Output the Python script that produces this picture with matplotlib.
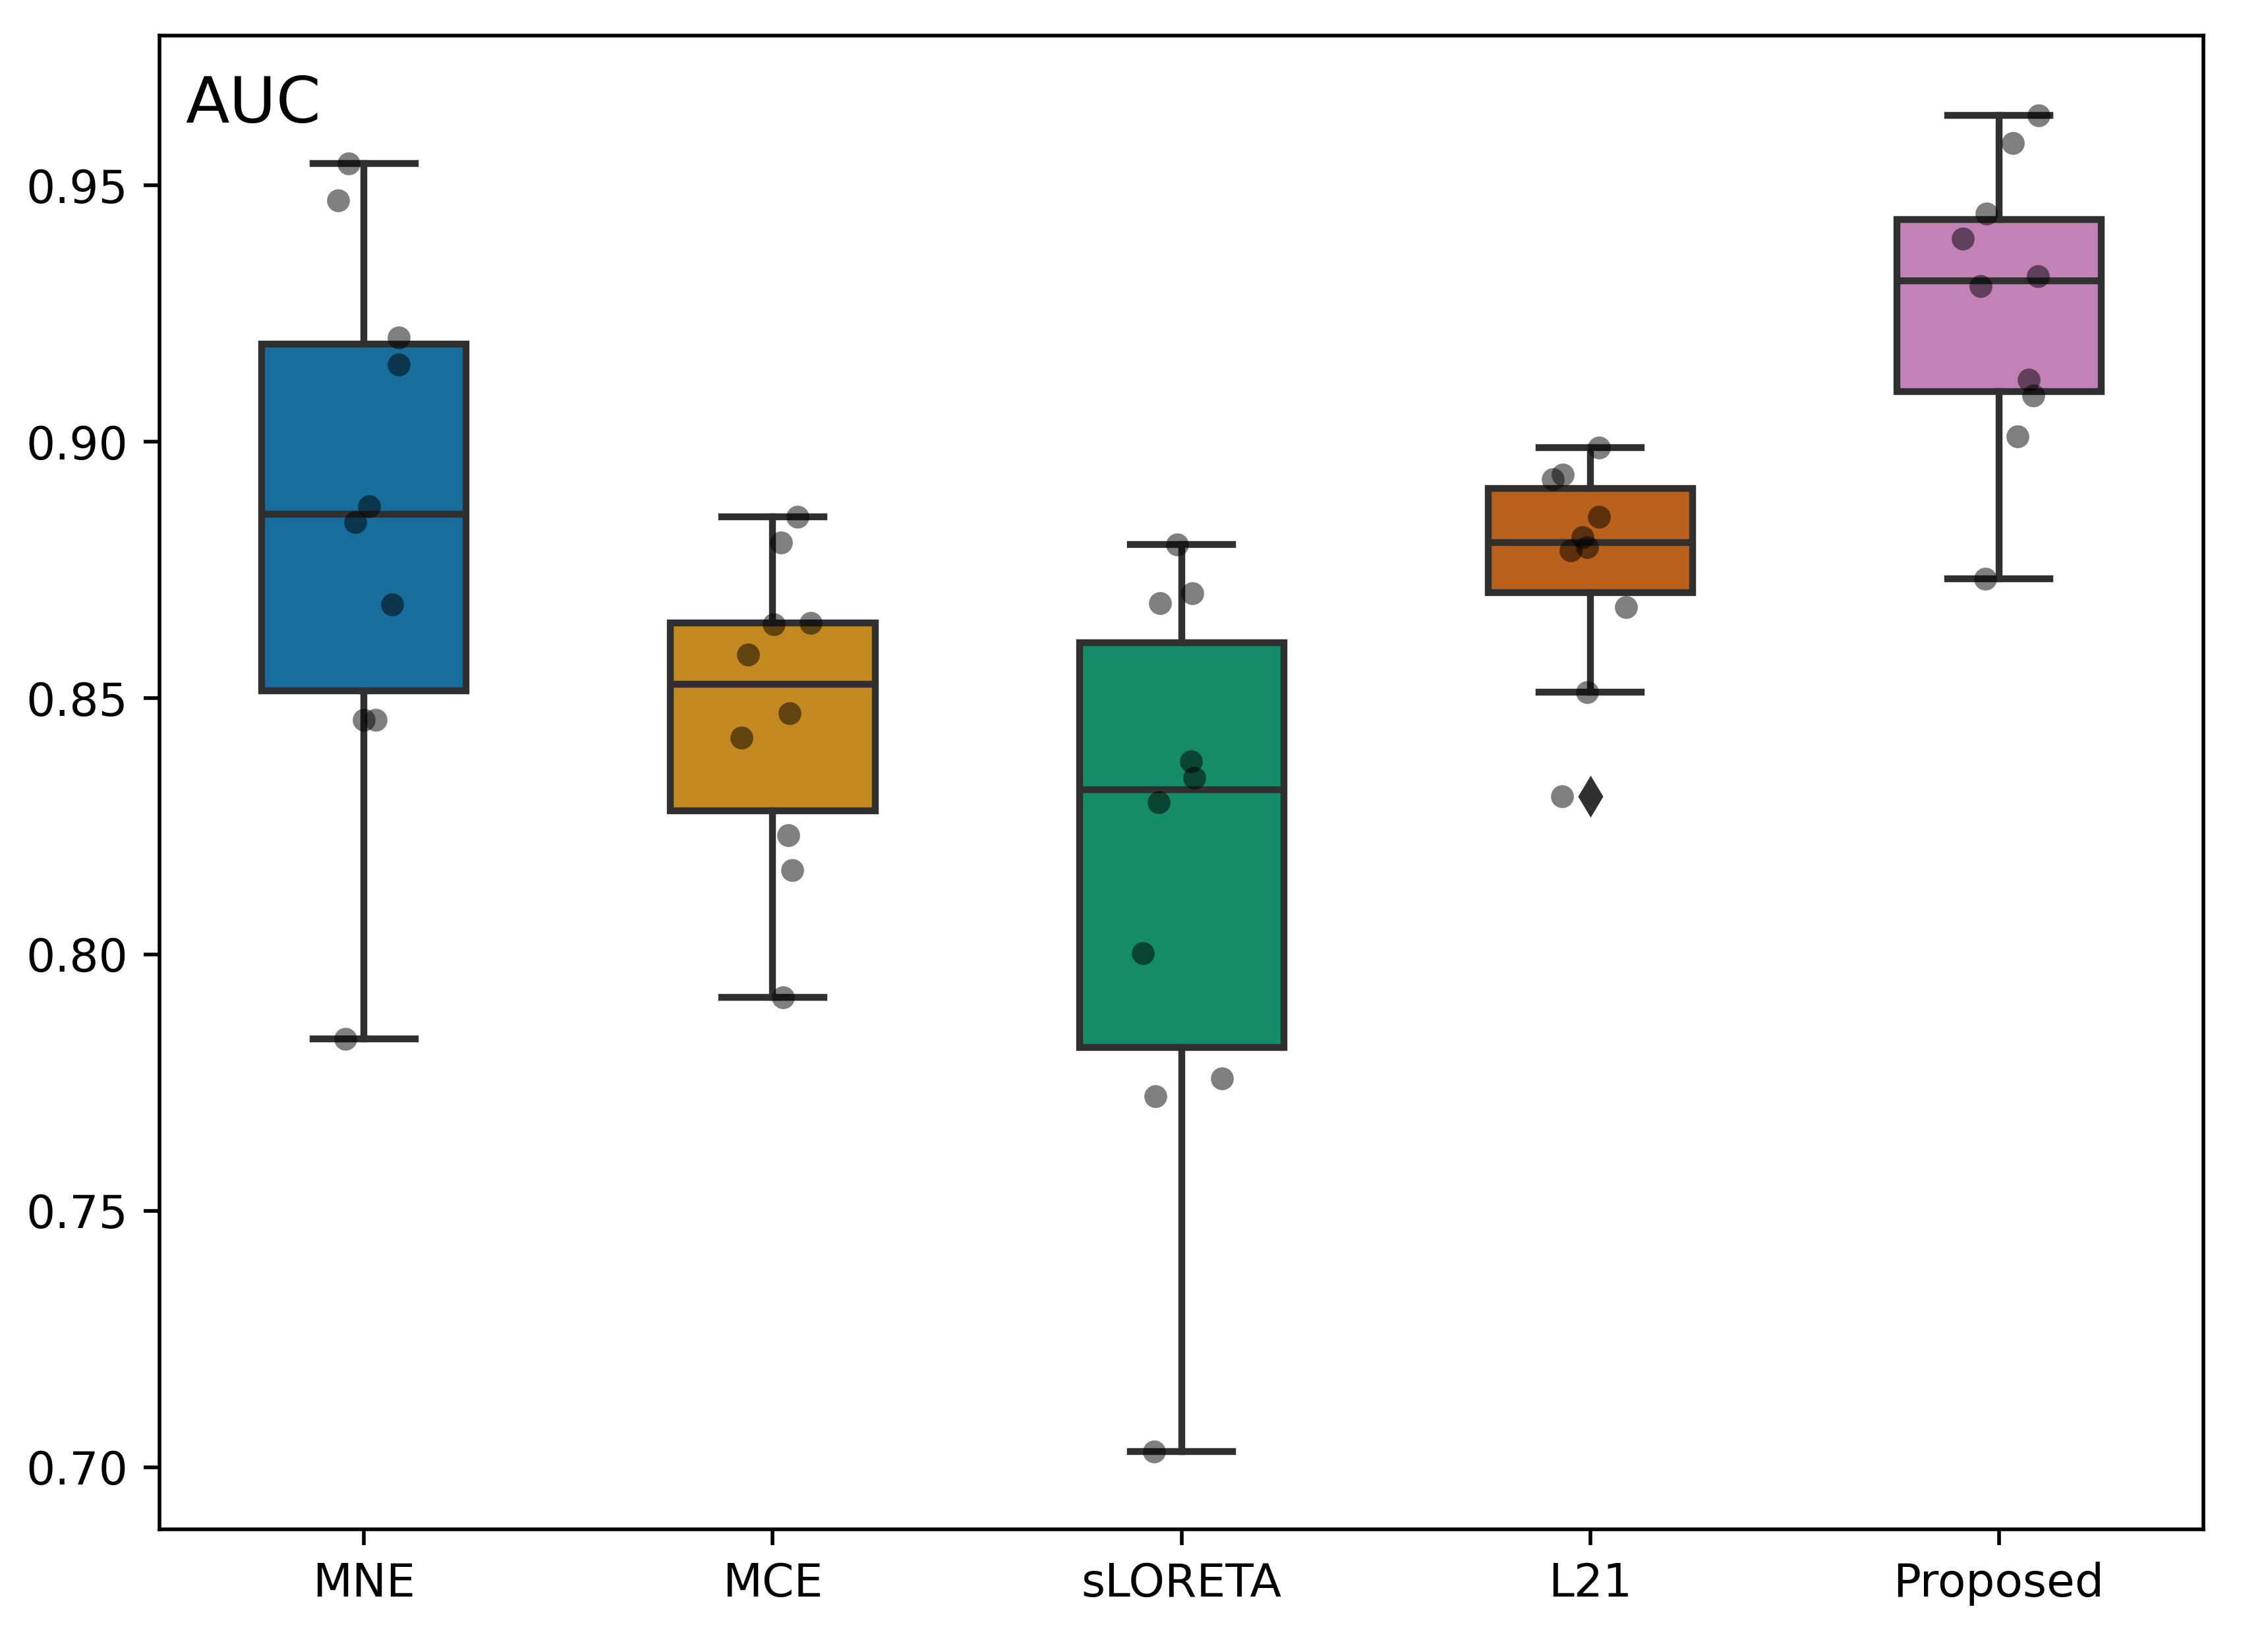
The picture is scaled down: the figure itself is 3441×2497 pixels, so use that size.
import colorsys
import numpy as np
import matplotlib
matplotlib.use('Agg')
import matplotlib.pyplot as plt
from matplotlib.ticker import MultipleLocator

# valores AUC
methods = ['MNE', 'MCE', 'sLORETA', 'L21', 'Proposed']
auc_mne = [0.9543, 0.9470, 0.9203, 0.9151, 0.8874, 0.8843, 0.8682, 0.8458, 0.8458, 0.7836]
auc_mce = [0.8853, 0.8803, 0.8644, 0.8647, 0.8585, 0.8470, 0.8423, 0.8233, 0.8164, 0.7916]
auc_sloreta = [0.8799, 0.8685, 0.8704, 0.8376, 0.8345, 0.8297, 0.8003, 0.7758, 0.7724, 0.7031]
auc_l21 = [0.8989, 0.8936, 0.8927, 0.8853, 0.8814, 0.8794, 0.8788, 0.8678, 0.8512, 0.8308]
auc_proposed = [0.9636, 0.9582, 0.9445, 0.9396, 0.9323, 0.9304, 0.9121, 0.9090, 0.9010, 0.8733]

# desplazamiento horizontal (jitter) de cada punto
jit_mne = [-0.038, -0.063, 0.084, 0.084, 0.012, -0.022, 0.068, 0.000, 0.029, -0.046]
jit_mce = [0.061, 0.020, 0.003, 0.093, -0.060, 0.041, -0.077, 0.038, 0.048, 0.025]
jit_sloreta = [-0.010, -0.052, 0.026, 0.023, 0.032, -0.055, -0.094, 0.099, -0.063, -0.067]
jit_l21 = [0.022, -0.067, -0.091, 0.022, -0.018, -0.008, -0.048, 0.087, -0.007, -0.069]
jit_proposed = [0.097, 0.035, -0.030, -0.088, 0.096, -0.045, 0.073, 0.085, 0.045, -0.034]

data = [auc_mne, auc_mce, auc_sloreta, auc_l21, auc_proposed]
jitter = [jit_mne, jit_mce, jit_sloreta, jit_l21, jit_proposed]

palette = ['#0173b2', '#de8f05', '#029e73', '#d55e00', '#cc78bc']


def desaturate(c, prop=0.75):
    r, g, b = matplotlib.colors.to_rgb(c)
    h, l, s = colorsys.rgb_to_hls(r, g, b)
    return colorsys.hls_to_rgb(h, l, s * prop)


colors = [desaturate(c) for c in palette]
gray = '#303030'

fig = plt.figure(figsize=(3441 / 500, 2497 / 500), dpi=500)
ax = fig.add_axes([242.4 / 3441, 177 / 2497, 3100.3 / 3441, 2266 / 2497])

pos = np.arange(len(methods))
bp = ax.boxplot(data, positions=pos, widths=0.5, patch_artist=True,
                medianprops=dict(color=gray, linewidth=1.5),
                whiskerprops=dict(color=gray, linewidth=1.5),
                capprops=dict(color=gray, linewidth=1.5),
                boxprops=dict(edgecolor=gray, linewidth=1.5),
                flierprops=dict(marker='d', markerfacecolor=gray,
                                markeredgecolor=gray, markersize=5))
for patch, c in zip(bp['boxes'], colors):
    patch.set_facecolor(c)

# puntos individuales
for i, (vals, jit) in enumerate(zip(data, jitter)):
    ax.scatter(i + np.array(jit), vals, s=25, color='black', alpha=0.5,
               linewidths=0, zorder=5)

ax.set_xticks(pos)
ax.set_xticklabels(methods)
ax.set_xlim(-0.5, 4.5)
ax.set_ylim(0.6879, 0.9792)
ax.yaxis.set_major_locator(MultipleLocator(0.05))
ax.yaxis.set_major_formatter(matplotlib.ticker.FormatStrFormatter('%.2f'))

ax.text(0.0125, 0.9417, 'AUC', transform=ax.transAxes, fontsize=14,
        va='baseline', ha='left')

fig.savefig('out.png', dpi=500)
